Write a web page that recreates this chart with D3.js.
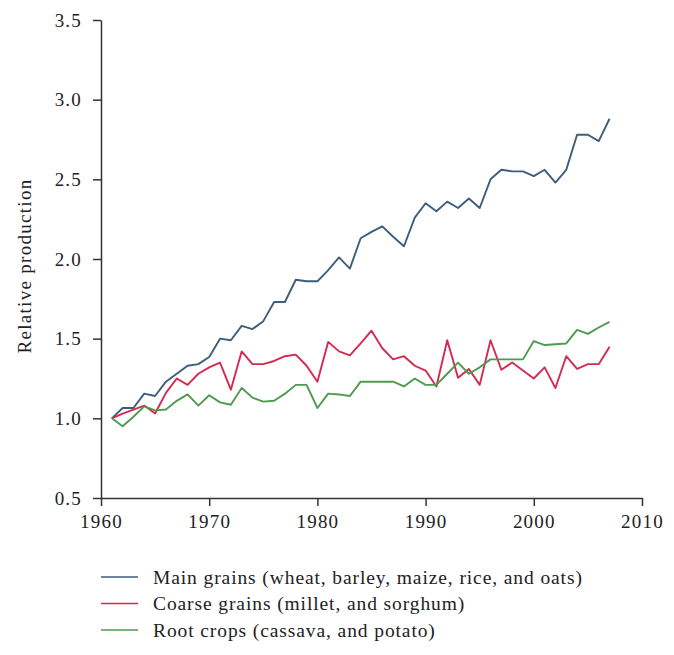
<!DOCTYPE html>
<html><head><meta charset="utf-8">
<script src="https://cdn.jsdelivr.net/npm/d3@7"></script>
<style>body{margin:0;background:#fff}</style>
</head><body><svg id="c" width="674" height="655"></svg>
<script>
const years = d3.range(1961, 2008);
const mainGrains = [1.00,1.065,1.065,1.155,1.14,1.23,1.28,1.33,1.34,1.385,1.50,1.49,1.58,1.56,1.61,1.73,1.73,1.87,1.86,1.86,1.93,2.01,1.94,2.13,2.17,2.205,2.14,2.08,2.26,2.35,2.30,2.36,2.32,2.38,2.32,2.50,2.56,2.55,2.55,2.52,2.56,2.48,2.56,2.78,2.78,2.74,2.88];
const coarseGrains = [1.00,1.03,1.055,1.08,1.03,1.16,1.25,1.21,1.28,1.32,1.35,1.18,1.42,1.34,1.34,1.36,1.39,1.40,1.33,1.23,1.48,1.42,1.395,1.47,1.55,1.44,1.37,1.39,1.33,1.30,1.20,1.49,1.255,1.31,1.21,1.49,1.305,1.35,1.30,1.25,1.32,1.19,1.39,1.31,1.34,1.34,1.45];
const rootCrops = [1.00,0.95,1.01,1.075,1.05,1.055,1.11,1.15,1.08,1.145,1.10,1.085,1.19,1.13,1.105,1.11,1.155,1.21,1.21,1.065,1.155,1.15,1.14,1.23,1.23,1.23,1.23,1.20,1.25,1.21,1.21,1.28,1.35,1.28,1.32,1.37,1.37,1.37,1.37,1.485,1.46,1.465,1.47,1.555,1.53,1.57,1.605];
const seriesNames = ["Main grains (wheat, barley, maize, rice, and oats)","Coarse grains (millet, and sorghum)","Root crops (cassava, and potato)"];
const colors = ["#3e5d7c","#d42a50","#4e9a4e"];
const xTicks = [1960,1970,1980,1990,2000,2010];
const yTicks = [0.5,1.0,1.5,2.0,2.5,3.0,3.5];

const svg = d3.select("#c");
const x = d3.scaleLinear().domain([1960,2010]).range([101,642]);
const y = d3.scaleLinear().domain([0.5,3.5]).range([498,20]);
const font = "'Liberation Serif', 'DejaVu Serif', serif";

const xa = svg.append("g").attr("transform","translate(0,498)")
  .call(d3.axisBottom(x).tickValues(xTicks).tickFormat(d3.format("d")).tickSize(8).tickSizeOuter(0));
const ya = svg.append("g").attr("transform","translate(101,0)")
  .call(d3.axisLeft(y).tickValues(yTicks).tickFormat(d3.format(".1f")).tickSize(8).tickSizeOuter(0));
[xa,ya].forEach(g=>{
  g.selectAll("path,line").attr("stroke","#333").attr("stroke-width",1.5);
  g.selectAll("text").attr("font-family",font).attr("font-size",19).attr("letter-spacing",1.2).attr("fill","#222");
});
xa.selectAll("text").attr("dy","1.0em");
ya.selectAll("text").attr("x",-19).attr("dy","0.33em");

svg.append("text").attr("transform","translate(31,266) rotate(-90)")
  .attr("text-anchor","middle").attr("font-family",font).attr("font-size",19).attr("letter-spacing",1.3).attr("fill","#222")
  .text("Relative production");

const line = d3.line().x((d,i)=>x(years[i])).y(d=>y(d));
[mainGrains, coarseGrains, rootCrops].forEach((s,k)=>{
  svg.append("path").datum(s).attr("d",line).attr("fill","none")
    .attr("stroke",colors[k]).attr("stroke-width",1.9).attr("stroke-linejoin","round");
});

const lg = svg.append("g");
seriesNames.forEach((n,k)=>{
  const yy = 577 + k*26.5;
  lg.append("line").attr("x1",101).attr("x2",138).attr("y1",yy).attr("y2",yy)
    .attr("stroke",colors[k]).attr("stroke-width",1.5);
  lg.append("text").attr("x",153).attr("y",yy).attr("dy","0.35em")
    .attr("font-family",font).attr("font-size",19.5).attr("letter-spacing",0.9).attr("fill","#222").text(n);
});
</script></body></html>
